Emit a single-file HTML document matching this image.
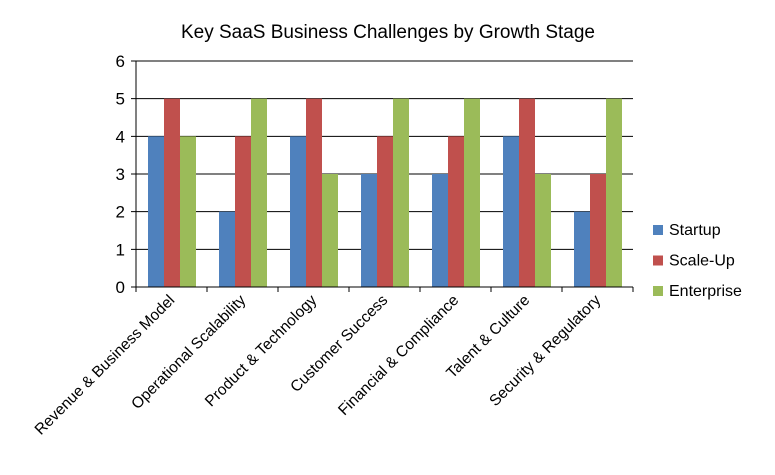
<!DOCTYPE html>
<html><head><meta charset="utf-8"><style>
body{margin:0;background:#fff}
svg text{font-family:"Liberation Sans",sans-serif;fill:#000}
</style></head><body>
<svg width="775" height="470" xmlns="http://www.w3.org/2000/svg">
<text x="388" y="38" text-anchor="middle" font-size="19">Key SaaS Business Challenges by Growth Stage</text>
<g id="grid"></g><g id="bars"></g><g id="axes"></g><g id="legend"></g>
</svg>
<script>
const categories=["Revenue & Business Model","Operational Scalability","Product & Technology","Customer Success","Financial & Compliance","Talent & Culture","Security & Regulatory"];
const seriesNames=["Startup","Scale-Up","Enterprise"];
const startup=[4,2,4,3,3,4,2];
const scaleUp=[5,4,5,4,4,5,3];
const enterprise=[4,5,3,5,5,3,5];
const yTicks=[0,1,2,3,4,5,6];
const colors=["#4f81bd","#c0504d","#9bbb59"];
const series=[startup,scaleUp,enterprise];
const NS="http://www.w3.org/2000/svg";
const x0=136,x1=633,yTop=61,yBot=287,yMax=6;
const cw=(x1-x0)/categories.length,bw=16,off=12;
const y=v=>yBot-(v/yMax)*(yBot-yTop);
function mk(t,a,p,txt){const e=document.createElementNS(NS,t);for(const k in a)e.setAttribute(k,a[k]);if(txt!==undefined)e.textContent=txt;p.appendChild(e);return e;}
const G=document.getElementById('grid'),B=document.getElementById('bars'),A=document.getElementById('axes'),L=document.getElementById('legend');
yTicks.forEach(t=>{
 const l=mk('line',{x1:x0-5,x2:x1,y1:y(t),y2:y(t),stroke:'#000','stroke-width':1},G);
 
 
 const tx=mk('text',{x:x0-11,y:y(t)+6,'text-anchor':'end','font-size':17},A,String(t));
 
 
});
series.forEach((s,si)=>s.forEach((v,i)=>{
 const r=mk('rect',{x:x0+i*cw+off+si*bw,y:y(v),width:bw,height:yBot-y(v),fill:colors[si]},B);
 
 
}));
const ya=mk('line',{x1:x0,x2:x0,y1:yTop,y2:yBot,stroke:'#000'},A);


const xa=mk('line',{x1:x0,x2:x1,y1:yBot,y2:yBot,stroke:'#000'},A);


for(let i=0;i<=categories.length;i++){
 const t=mk('line',{x1:x0+i*cw,x2:x0+i*cw,y1:yBot,y2:yBot+5,stroke:'#000'},A);
 
 
}
categories.forEach((c,i)=>{
 const cx=x0+(i+0.5)*cw+4,cy=yBot+14;
 const t=mk('text',{x:cx,y:cy,'text-anchor':'end','font-size':15.5,transform:`rotate(-45 ${cx} ${cy})`},A,c);
 
 
});
seriesNames.forEach((n,i)=>{
 const yy=225+i*30.5;
 const r=mk('rect',{x:653,y:yy,width:10,height:10,fill:colors[i]},L);
 
 
 const t=mk('text',{x:669,y:yy+10,'font-size':16},L,n);
 
 
});
</script>
</body></html>
